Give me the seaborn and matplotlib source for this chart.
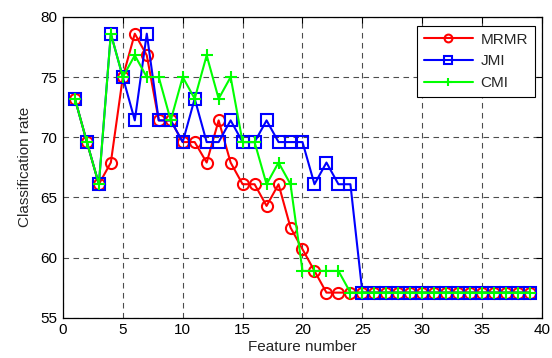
import numpy as np
import pandas as pd
import matplotlib
matplotlib.use("Agg")
import matplotlib.pyplot as plt
import seaborn as sns

features = list(range(1, 40))
mrmr = [73.2, 69.6, 66.1, 67.9, 75.0, 78.6, 76.8, 71.4, 71.4, 69.6,
        69.6, 67.9, 71.4, 67.9, 66.1, 66.1, 64.3, 66.1, 62.5, 60.7,
        58.9, 57.1, 57.1, 57.1] + [57.1] * 15
jmi = [73.2, 69.6, 66.1, 78.6, 75.0, 71.4, 78.6, 71.4, 71.4, 69.6,
       73.2, 69.6, 69.6, 71.4, 69.6, 69.6, 71.4, 69.6, 69.6, 69.6,
       66.1, 67.9, 66.1, 66.1] + [57.1] * 15
cmi = [73.2, 69.6, 66.1, 78.6, 75.0, 76.8, 75.0, 75.0, 71.4, 75.0,
       73.2, 76.8, 73.2, 75.0, 69.6, 69.6, 66.1, 67.9, 66.1, 58.9,
       58.9, 58.9, 58.9, 57.1] + [57.1] * 15

xticks = [0, 5, 10, 15, 20, 25, 30, 35, 40]
yticks = [55, 60, 65, 70, 75, 80]

sns.set_theme(style="white")
plt.rcParams["font.family"] = ["Liberation Sans", "DejaVu Sans"]
plt.rcParams["xtick.direction"] = "in"
plt.rcParams["ytick.direction"] = "in"

fig = plt.figure(figsize=(5.52, 3.58), dpi=100)
ax = fig.add_axes([0.114, 0.112, 0.868, 0.841])

series = [("MRMR", mrmr, "#ff0000", "o"),
          ("JMI", jmi, "#0000ff", "s"),
          ("CMI", cmi, "#00ff00", "+")]
for name, vals, col, mk in series:
    sns.lineplot(x=features, y=vals, ax=ax, color=col, marker=mk,
                 markersize=8, markerfacecolor="none", markeredgecolor=col,
                 markeredgewidth=1.5, linewidth=1.5, label=name)

ax.set_xlim(0, 40)
ax.set_ylim(55, 80)
ax.set_xticks(xticks)
ax.set_yticks(yticks)
ax.tick_params(axis="both", labelsize=11, length=4, width=0.8,
               top=True, right=True, colors="black", pad=4)
ax.grid(True, color="0.3", linestyle=(0, (5, 4)), linewidth=0.8)
for s in ax.spines.values():
    s.set_color("black")
    s.set_linewidth(0.9)
ax.set_xlabel("Feature number", fontsize=11, labelpad=2)
ax.set_ylabel("Classification rate", fontsize=11, labelpad=6)

leg = ax.legend(loc="upper right", bbox_to_anchor=(0.985, 0.97),
                borderaxespad=0, fontsize=11, markerscale=0.7,
                handlelength=3.2, handletextpad=0.5, fancybox=False,
                framealpha=1, edgecolor="black", borderpad=0.45,
                labelspacing=0.5)
leg.get_frame().set_linewidth(0.8)

fig.savefig("out.png", dpi=100)
